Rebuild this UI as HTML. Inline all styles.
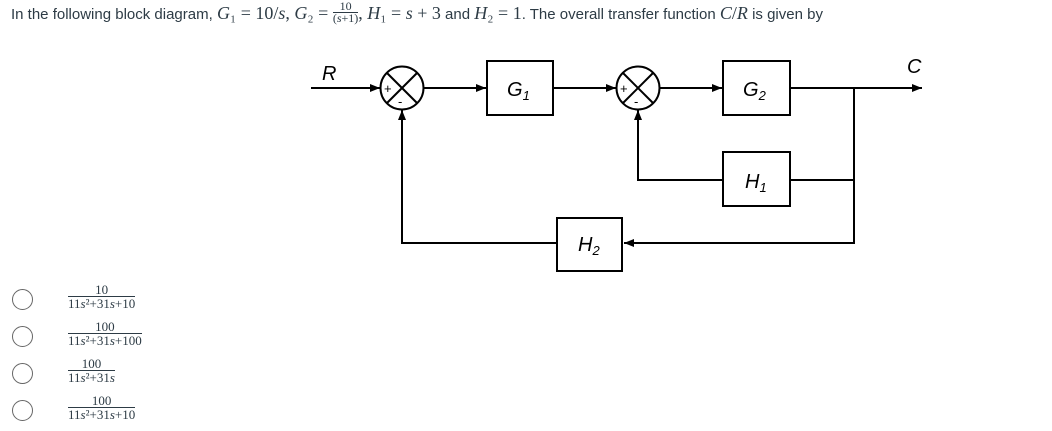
<!DOCTYPE html>
<html><head><meta charset="utf-8"><style>
body{margin:0;width:1052px;height:431px;background:#fff;overflow:hidden;font-family:"Liberation Sans",sans-serif;color:#2d3b45}
.q{position:absolute;left:11px;top:3px;font-size:15px;white-space:nowrap}
.m{font-family:"Liberation Serif",serif;font-style:italic;font-size:18px}
.r{font-family:"Liberation Serif",serif;font-size:18px}
.fr{display:inline-block;vertical-align:middle;text-align:center;font-family:"Liberation Serif",serif;font-size:12px;line-height:11px}
.fr span{display:block}
.fr .n{border-bottom:1px solid #2d3b45;padding:0 1px}
.opt{position:absolute;left:12px}
.opt .c{position:absolute;left:0;top:6px;width:19px;height:19px;border:1px solid #666;border-radius:50%}
.opt .fr{position:absolute;left:56px;top:0;font-size:13px;line-height:13px}
</style></head><body>
<div class="q">In the following block diagram, <span class="m">G</span><span class="r">₁ = 10/</span><span class="m">s</span><span class="r">, </span><span class="m">G</span><span class="r">₂ = </span><span class="fr" style="position:relative;top:-3px"><span class="n">10</span><span>(<i>s</i>+1)</span></span><span class="r">, </span><span class="m">H</span><span class="r">₁ = </span><span class="m">s</span><span class="r"> + 3</span> and <span class="m">H</span><span class="r">₂ = 1</span>. The overall transfer function <span class="m">C</span><span class="r">/</span><span class="m">R</span> is given by</div>

<svg width="1052" height="431" style="position:absolute;left:0;top:0" font-family="Liberation Sans, sans-serif">
<defs><marker id="a" markerWidth="10" markerHeight="8" refX="10" refY="4" orient="auto" markerUnits="userSpaceOnUse"><path d="M0,0L10,4L0,8z" fill="#000"/></marker></defs>
<g stroke="#000" stroke-width="2" fill="none">
<line x1="311" y1="88" x2="380" y2="88" marker-end="url(#a)"/>
<circle cx="402" cy="88" r="21.5" fill="#fff"/>
<line x1="387" y1="73" x2="417" y2="103"/><line x1="417" y1="73" x2="387" y2="103"/>
<line x1="424" y1="88" x2="486" y2="88" marker-end="url(#a)"/>
<rect x="487" y="61" width="66" height="54" fill="#fff"/>
<line x1="553" y1="88" x2="616" y2="88" marker-end="url(#a)"/>
<circle cx="638" cy="88" r="21.5" fill="#fff"/>
<line x1="623" y1="73" x2="653" y2="103"/><line x1="653" y1="73" x2="623" y2="103"/>
<line x1="660" y1="88" x2="722" y2="88" marker-end="url(#a)"/>
<rect x="723" y="61" width="67" height="54" fill="#fff"/>
<line x1="790" y1="88" x2="922" y2="88" marker-end="url(#a)"/>
<polyline points="854,88 854,243 624,243" marker-end="url(#a)"/>
<line x1="854" y1="180" x2="790" y2="180"/>
<rect x="723" y="152" width="67" height="54" fill="#fff"/>
<polyline points="723,180 638,180 638,110" marker-end="url(#a)"/>
<rect x="557" y="218" width="65" height="53" fill="#fff"/>
<polyline points="557,243 402,243 402,110" marker-end="url(#a)"/>
</g>
<g font-size="20" font-style="italic" fill="#000">
<text x="322" y="80">R</text><text x="907" y="73">C</text>
<text x="507" y="96">G<tspan font-size="13" dy="4">1</tspan></text>
<text x="743" y="96">G<tspan font-size="13" dy="4">2</tspan></text>
<text x="745" y="188">H<tspan font-size="13" dy="4">1</tspan></text>
<text x="578" y="251">H<tspan font-size="13" dy="4">2</tspan></text>
</g>
<g font-size="13" fill="#000"><text x="384" y="93">+</text><text x="398" y="106">-</text>
<text x="620" y="93">+</text><text x="634" y="106">-</text></g>
</svg>

<div class="opt" style="top:283px"><div class="c"></div><span class="fr"><span class="n">10</span><span>11<i>s</i>²+31<i>s</i>+10</span></span></div>
<div class="opt" style="top:320px"><div class="c"></div><span class="fr"><span class="n">100</span><span>11<i>s</i>²+31<i>s</i>+100</span></span></div>
<div class="opt" style="top:357px"><div class="c"></div><span class="fr"><span class="n">100</span><span>11<i>s</i>²+31<i>s</i></span></span></div>
<div class="opt" style="top:394px"><div class="c"></div><span class="fr"><span class="n">100</span><span>11<i>s</i>²+31<i>s</i>+10</span></span></div>
</body></html>
